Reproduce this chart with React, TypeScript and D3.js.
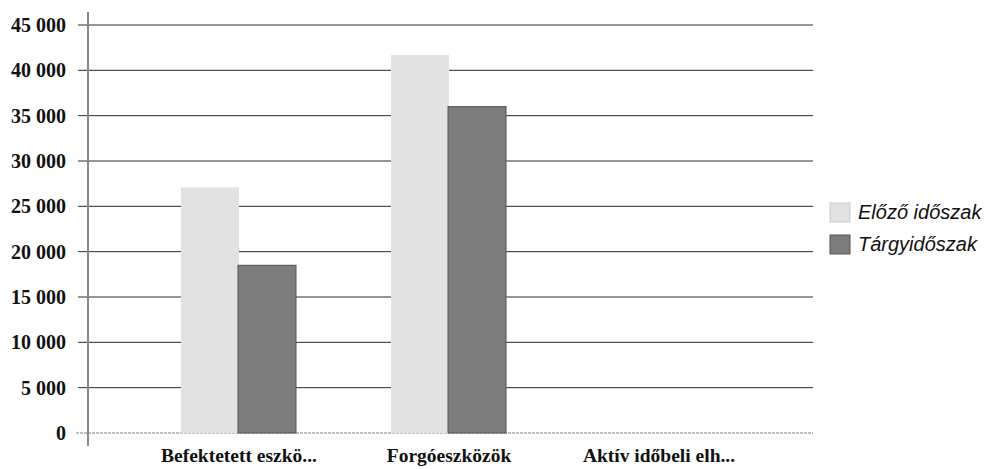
import React from "react";
import * as d3 from "d3";

const categories = ["Befektetett eszkö...", "Forgóeszközök", "Aktív időbeli elh..."];
const seriesNames = ["Előző időszak", "Tárgyidőszak"];
const previousPeriod = [27100, 41700, 0];
const currentPeriod = [18500, 36000, 0];
const yTicks = [0, 5000, 10000, 15000, 20000, 25000, 30000, 35000, 40000, 45000];
const colors = ["#e2e2e2", "#7d7d7d"];

const fmt = (v: number) => (v === 0 ? "0" : d3.format(",")(v).replace(/,/g, " "));

export default function App() {
  const W = 989, H = 469;
  const y = d3.scaleLinear().domain([0, 45000]).range([433, 25]);
  const x = d3.scaleBand().domain(categories).range([134, 764]).paddingInner(0).paddingOuter(0);
  const barW = 58;
  const series = [previousPeriod, currentPeriod];
  return (
    <svg width={W} height={H} style={{ position: "absolute", left: 0, top: 0, background: "#fff" }}>
      {yTicks.map((t) =>
        t === 0 ? null : (
          <line key={t} x1={78} x2={813} y1={y(t)} y2={y(t)} stroke="#2a2a2a" strokeWidth={1} />
        )
      )}
      <line x1={76} x2={813} y1={y(0)} y2={y(0)} stroke="#aaa" strokeWidth={1.5} strokeDasharray="3 1" />
      {categories.map((c, i) =>
        series.map((s, j) => {
          const cx = (x(c) as number) + x.bandwidth() / 2;
          const bx = cx - barW + j * barW - j * 1;
          const v = s[i];
          if (v <= 0) return null;
          return (
            <rect key={c + j} x={bx} y={y(v)} width={barW} height={y(0) - y(v)} fill={colors[j]}
              stroke={j === 1 ? "#555" : "none"} strokeWidth={j === 1 ? 1 : 0} />
          );
        })
      )}
      <line x1={88} x2={88} y1={12} y2={446} stroke="#888" strokeWidth={2} />
      {yTicks.map((t) => (
        <text key={"l" + t} x={66} y={y(t)} dy="0.35em" textAnchor="end"
          fontFamily="'Liberation Serif', 'DejaVu Serif', serif" fontWeight="bold" fontSize={20} fill="#111">
          {fmt(t)}
        </text>
      ))}
      {categories.map((c) => (
        <text key={"c" + c} x={(x(c) as number) + x.bandwidth() / 2} y={462} textAnchor="middle"
          fontFamily="'Liberation Serif', 'DejaVu Serif', serif" fontWeight="bold" fontSize={19.5} fill="#111">
          {c}
        </text>
      ))}
      {seriesNames.map((n, j) => (
        <g key={n} transform={`translate(830, ${203 + j * 32})`}>
          <rect x={0} y={0} width={20} height={19} fill={colors[j]} stroke={j === 1 ? "#555" : "#ccc"} strokeWidth={1} />
          <text x={28} y={16} fontFamily="'Liberation Sans', Arial, sans-serif" fontStyle="italic" fontSize={20} fill="#111">
            {n}
          </text>
        </g>
      ))}
    </svg>
  );
}
